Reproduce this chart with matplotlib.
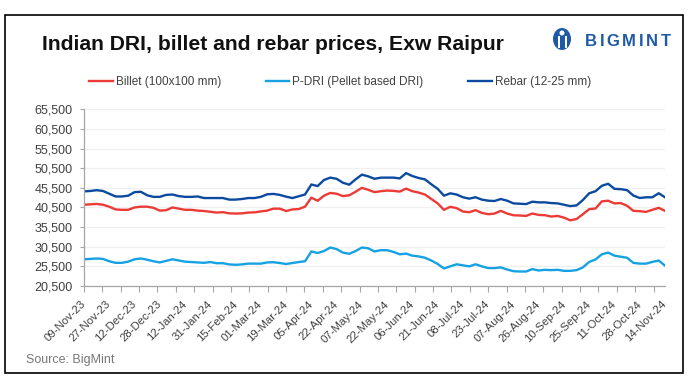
import numpy as np
import matplotlib
matplotlib.use("Agg")
import matplotlib.pyplot as plt
from matplotlib.patches import Rectangle, Ellipse

# x-axis labels, one every 4 samples
date_labels = ['09-Nov-23', '27-Nov-23', '12-Dec-23', '28-Dec-23', '12-Jan-24', '31-Jan-24',
               '15-Feb-24', '01-Mar-24', '19-Mar-24', '05-Apr-24', '22-Apr-24', '07-May-24',
               '22-May-24', '06-Jun-24', '21-Jun-24', '08-Jul-24', '23-Jul-24', '07-Aug-24',
               '26-Aug-24', '10-Sep-24', '25-Sep-24', '11-Oct-24', '28-Oct-24', '14-Nov-24']

# prices (INR/t), 4 samples per label interval
billet = [41200, 41300, 41400, 41200, 40700, 40000, 39900, 39900, 40500, 40700, 40700, 40400,
          39700, 39800, 40500, 40200, 39900, 39900, 39700, 39600, 39400, 39200, 39300,
          39000, 38950, 39000, 39200, 39250, 39500, 39700, 40200, 40200, 39600, 40000, 40100,
          40700, 43000, 42200, 43500, 44200, 44000, 43400, 43600, 44500, 45500, 45000,
          44400, 44640, 44810, 44720, 44550, 45300, 44640, 44290, 43780, 42660, 41540, 39900,
          40670, 40330, 39470, 39290, 39810, 39120, 38780, 38950, 39640, 38950, 38520,
          38450, 38350, 38950, 38600, 38520, 38180, 38350, 37910, 37220, 37570, 38780, 40070,
          40240, 42050, 42220, 41530, 41620, 40930, 39640, 39550, 39380, 39900, 40410, 39640]

pdri = [27300, 27400, 27500, 27400, 26800, 26400, 26400, 26700, 27300, 27500, 27200, 26800,
        26500, 26900, 27300, 27000, 26700, 26600, 26500, 26400, 26600, 26300, 26300,
        26000, 25900, 26000, 26200, 26200, 26200, 26500, 26550, 26350, 26100, 26350, 26600,
        26800, 29300, 28900, 29400, 30300, 29900, 29000, 28700, 29400, 30300, 30100,
        29300, 29620, 29620, 29180, 28570, 28750, 28220, 28040, 27690, 26990, 26110, 24970,
        25500, 26030, 25760, 25500, 26030, 25500, 25060, 25060, 25240, 24710, 24270,
        24190, 24190, 24800, 24450, 24620, 24540, 24620, 24360, 24360, 24540, 25240, 26640,
        27260, 28570, 29010, 28220, 27960, 27690, 26380, 26200, 26200, 26640, 26990, 25680]

rebar = [44600, 44700, 44900, 44700, 44000, 43300, 43300, 43500, 44400, 44500, 43600, 43200,
         43200, 43700, 43800, 43400, 43200, 43200, 43300, 42900, 42900, 42900, 42900,
         42500, 42500, 42650, 42900, 42900, 43200, 43850, 43950, 43700, 43250, 42900, 43350,
         43800, 46350, 45950, 47500, 48100, 47800, 46800, 46300, 47650, 48850, 48430,
         47800, 48090, 48100, 48100, 47900, 49250, 48500, 48000, 47650, 46400, 45250, 43500,
         44100, 43800, 43100, 42750, 43100, 42500, 42230, 42150, 42650, 42230, 41540,
         41450, 41360, 41970, 41800, 41800, 41620, 41540, 41190, 40850, 41020, 42400, 44120,
         44640, 46020, 46530, 45240, 45160, 44900, 43520, 42910, 43090, 43090, 44120, 43090]

series_names = ['Billet (100x100 mm)', 'P-DRI (Pellet based DRI)', 'Rebar (12-25 mm)']
series_colors = ['#ec3b36', '#16a2e2', '#0b4a9e']

W, H = 691, 389
plt.rcParams['font.family'] = ['Liberation Sans', 'DejaVu Sans']
fig = plt.figure(figsize=(W / 100, H / 100), dpi=100)
ax = fig.add_axes([84 / W, 1 - 286 / H, (665 - 84) / W, (286 - 109.3) / H])

x = np.arange(len(billet))
for vals, name, col in zip([billet, pdri, rebar], series_names, series_colors):
    ax.plot(x, vals, color=col, lw=1.7, label=name, solid_joinstyle='round')

ax.set_xlim(0, len(billet) - 1)
ax.set_ylim(20500, 65500)
yt = np.arange(20500, 65501, 5000)
ax.set_yticks(yt, labels=[f'{v:,}' for v in yt])
ax.grid(axis='y', color='#f0f0f0', lw=1)
ax.set_axisbelow(True)

# tick marks and labels use different intervals (as in the source)
ax.xaxis.remove_overlapping_locs = False
ax.set_xticks(np.arange(0, len(billet) - 1, 4 * 8 / 11))
ax.set_xticklabels([])
ax.set_xticks(np.arange(0, len(billet), 4), labels=date_labels, minor=True)
ax.tick_params(axis='x', which='major', length=4, color='#a6a6a6', direction='out')
ax.tick_params(axis='x', which='minor', length=0, pad=12, labelsize=8.2, labelcolor='#404040')
for lab in ax.get_xticklabels(minor=True):
    lab.set_rotation(45)
    lab.set_ha('right')
    lab.set_va('center')
    lab.set_rotation_mode('anchor')
ax.tick_params(axis='y', length=3, color='#a6a6a6', labelsize=9, labelcolor='#404040', pad=5)

for s in ['top', 'right']:
    ax.spines[s].set_visible(False)
for s in ['left', 'bottom']:
    ax.spines[s].set_color('#a6a6a6')
    ax.spines[s].set_linewidth(0.9)

fig.legend(loc='center left', bbox_to_anchor=(89 / W, 1 - 82.3 / H), ncol=3, frameon=False,
           fontsize=8.5, handlelength=2.0, handletextpad=0.25, columnspacing=3.8,
           borderpad=0, borderaxespad=0, labelcolor='#404040')

fig.text(42 / W, 1 - 44 / H, 'Indian DRI, billet and rebar prices, Exw Raipur',
         fontsize=15.2, fontweight='bold', color='#111111', va='center', ha='left')
fig.text(26 / W, 1 - 360 / H, 'Source: BigMint', fontsize=9, color='#767676',
         va='center', ha='left')

# simple logo
logo_col = '#1f5aa6'
fig.patches.append(Ellipse((562 / W, 1 - 39 / H), 18 / W, 22 / H, transform=fig.transFigure,
                           facecolor=logo_col, edgecolor='none'))
for dx in (-3.5, 3.5):
    fig.patches.append(Rectangle(((562 + dx - 1) / W, 1 - 48 / H), 2 / W, 12 / H,
                                 transform=fig.transFigure, facecolor='white', edgecolor='none'))
fig.patches.append(Ellipse((562 / W, 1 - 33 / H), 5 / W, 5 / H, transform=fig.transFigure,
                           facecolor='white', edgecolor='none'))
# letter-spaced wordmark
renderer = fig.canvas.get_renderer()
lx = 585
for ch in 'BIGMINT':
    t = fig.text(lx / W, 1 - 42 / H, ch, fontsize=12, fontweight='bold', color=logo_col,
                 va='center', ha='left')
    lx += t.get_window_extent(renderer).width + 2.6

# outer frame
fig.patches.append(Rectangle((5 / W, 1 - 373 / H), (683 - 5) / W, (373 - 15) / H,
                             transform=fig.transFigure, fill=False, edgecolor='black', lw=1.2))

fig.savefig('out.png', dpi=100, facecolor='white')
